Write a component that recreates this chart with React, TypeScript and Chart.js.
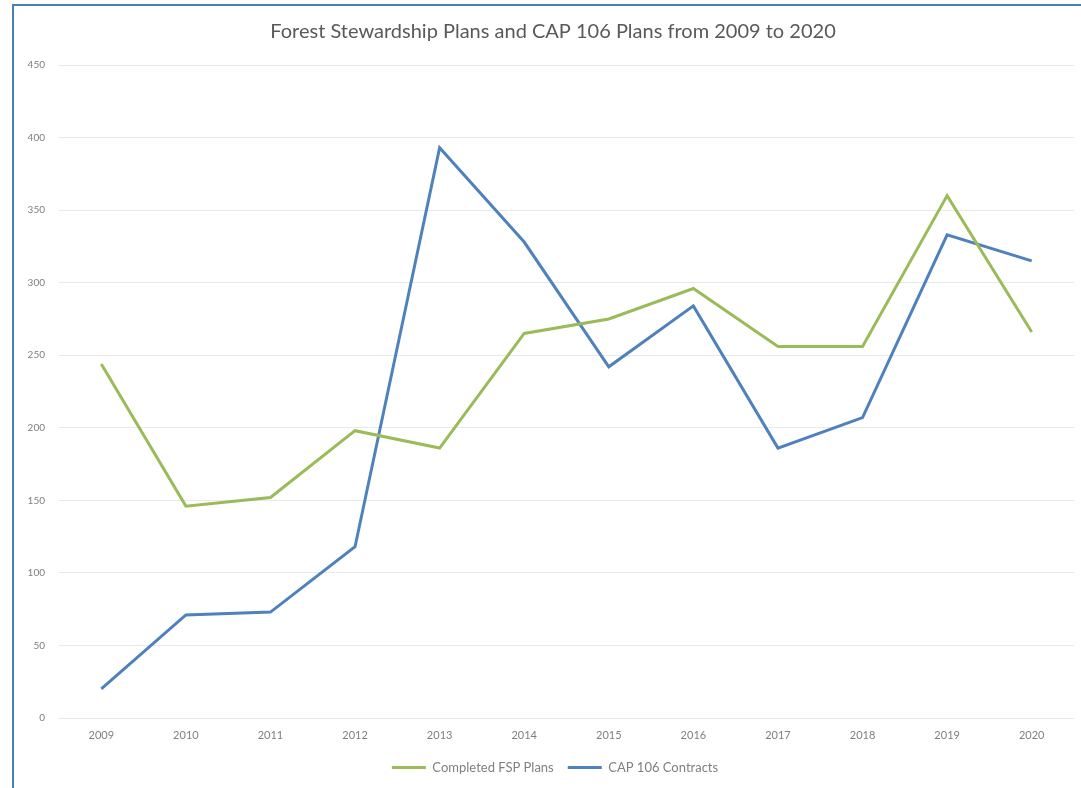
import React, { useEffect, useRef } from "react";
import { Chart, registerables } from "chart.js";

Chart.register(...registerables);

const years = ["2009", "2010", "2011", "2012", "2013", "2014", "2015", "2016", "2017", "2018", "2019", "2020"];
const fspPlans = [244, 146, 152, 198, 186, 265, 275, 296, 256, 256, 360, 266];
const capContracts = [20, 71, 73, 118, 393, 328, 242, 284, 186, 207, 333, 315];
const titleText = "Forest Stewardship Plans and CAP 106 Plans from 2009 to 2020";

const FONT = "Lato, 'Open Sans', sans-serif";

const shiftPlugin = {
  id: "shiftBlocks",
  afterLayout(chart: any) {
    if (chart.titleBlock) {
      chart.titleBlock.left += 9;
      chart.titleBlock.right += 9;
    }
    if (chart.legend) {
      chart.legend.left += 11;
      chart.legend.right += 11;
    }
  },
};

export default function App() {
  const ref = useRef<HTMLCanvasElement | null>(null);

  useEffect(() => {
    document.body.style.margin = "0";
    const ctx = ref.current!;
    const chart = new Chart(ctx, {
      type: "line",
      data: {
        labels: years,
        datasets: [
          {
            label: "Completed FSP Plans",
            data: fspPlans,
            borderColor: "#9bbb59",
            backgroundColor: "#9bbb59",
            borderWidth: 3,
            pointRadius: 0,
            tension: 0,
          },
          {
            label: "CAP 106 Contracts",
            data: capContracts,
            borderColor: "#4f81bd",
            backgroundColor: "#4f81bd",
            borderWidth: 3,
            pointRadius: 0,
            tension: 0,
          },
        ],
      },
      plugins: [shiftPlugin],
      options: {
        animation: false,
        responsive: false,
        maintainAspectRatio: false,
        layout: { padding: { left: 0, right: 7, top: 0, bottom: 4 } },
        plugins: {
          title: {
            display: true,
            text: titleText,
            color: "#595959",
            font: { family: FONT, size: 20, weight: "normal" },
            padding: { top: 14, bottom: 21 },
          },
          legend: {
            position: "bottom",
            labels: {
              color: "#7f7f7f",
              font: { family: FONT, size: 13 },
              usePointStyle: true,
              pointStyle: "line",
              pointStyleWidth: 34,
              boxHeight: 10,
              padding: 14,
            },
          },
          tooltip: { enabled: false },
        },
        scales: {
          x: {
            offset: true,
            grid: { display: false, drawTicks: false },
            border: { display: false },
            ticks: {
              color: "#7f7f7f",
              font: { family: FONT, size: 11 },
              padding: 11,
              maxRotation: 0,
            },
            afterFit: (s: any) => {
              s.height = 29;
            },
          },
          y: {
            min: 0,
            max: 450,
            grid: { color: "#e9e9e9", lineWidth: 1, drawTicks: false },
            border: { display: false },
            ticks: {
              stepSize: 50,
              color: "#7f7f7f",
              font: { family: FONT, size: 10 },
              padding: 14,
            },
            afterFit: (s: any) => {
              s.width = 45;
            },
          },
        },
      },
    });
    return () => chart.destroy();
  }, []);

  return (
    <div style={{ position: "relative", width: 1081, height: 788, background: "#fff", overflow: "hidden" }}>
      <div
        style={{
          position: "absolute",
          left: 12,
          top: 4,
          width: 1081,
          height: 788,
          borderLeft: "2px solid #4a7ebb",
          borderTop: "2px solid #4a7ebb",
        }}
      />
      <canvas
        ref={ref}
        width={1067}
        height={782}
        style={{ position: "absolute", left: 14, top: 6, width: 1067, height: 782 }}
      />
    </div>
  );
}
